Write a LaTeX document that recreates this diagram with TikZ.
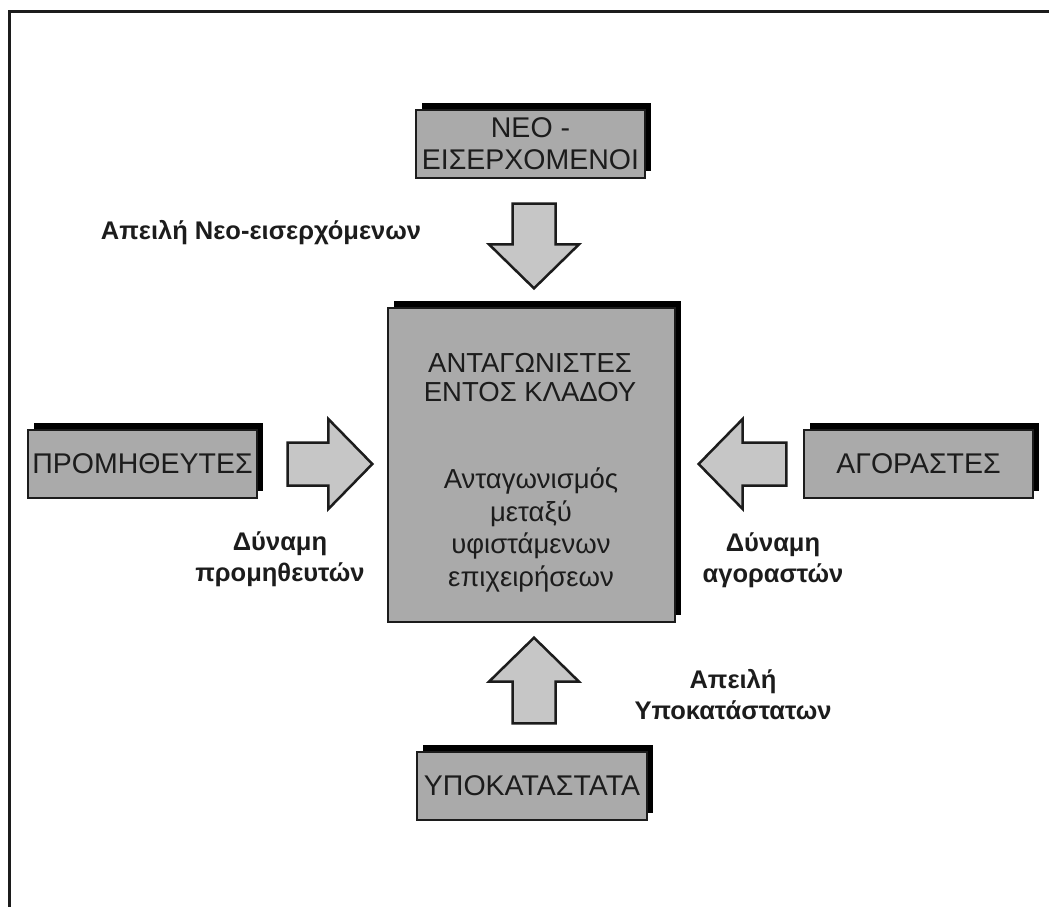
\documentclass[tikz,border=0pt]{standalone}
\usepackage{fontspec}
\setmainfont{Liberation Sans}
\usetikzlibrary{calc,shadows}

\definecolor{boxgray}{RGB}{170,170,170}
\definecolor{arrowgray}{RGB}{198,198,198}
\definecolor{inkdark}{RGB}{28,28,28}

% block arrow from #1 to #2 (shaft half width 21.5, head half width 45, head length 44)
\newcommand{\fatarrow}[2]{%
  \coordinate (#1-#2-h) at ($(#2)!44pt!(#1)$);
  \draw[arrowbody]
    ($(#1)!21.5pt!90:(#2)$) --
    ($(#1-#2-h)!21.5pt!-90:(#1)$) --
    ($(#1-#2-h)!45pt!-90:(#1)$) --
    (#2) --
    ($(#1-#2-h)!45pt!90:(#1)$) --
    ($(#1-#2-h)!21.5pt!90:(#1)$) --
    ($(#1)!21.5pt!-90:(#2)$) -- cycle;
}

\tikzset{
  forcebox/.style={draw=inkdark, line width=1.3pt, fill=boxgray,
    text=inkdark, align=center, inner sep=0pt,
    font=\fontsize{28.5}{32}\selectfont,
    drop shadow={shadow xshift=6pt, shadow yshift=7pt, fill=black, opacity=1}},
  arrowbody/.style={draw=inkdark, line width=2.5pt, fill=arrowgray, line join=miter},
  forcelabel/.style={align=center, text=inkdark, inner sep=0pt,
    font=\fontsize{25.5}{31}\selectfont\bfseries},
  boxtext/.style={align=center, text=inkdark, inner sep=0pt},
}

\begin{document}
\begin{tikzpicture}[x=1pt,y=-1pt]
\useasboundingbox (0,0) rectangle (1049,906);

% outer frame (only top and left edges fall inside the page)
\begin{scope}
  \clip (0,0) rectangle (1049,906);
  \draw[line width=3.5pt, draw=inkdark] (9.5,11.5) rectangle (1080,940);
\end{scope}

% the five forces
\node[forcebox, minimum width=229pt, minimum height=68pt] (neo) at (530.5,144)
  {ΝΕΟ -\\ΕΙΣΕΡΧΟΜΕΝΟΙ};
\node[forcebox, minimum width=287pt, minimum height=314pt] (comp) at (531.5,465) {};
\node[forcebox, minimum width=229pt, minimum height=68pt] (sup) at (142.5,464)
  {ΠΡΟΜΗΘΕΥΤΕΣ};
\node[forcebox, minimum width=229pt, minimum height=68pt] (buy) at (918.5,464)
  {ΑΓΟΡΑΣΤΕΣ};
\node[forcebox, minimum width=230pt, minimum height=68pt] (sub) at (532,786)
  {ΥΠΟΚΑΤΑΣΤΑΤΑ};

% text inside the central box
\node[boxtext, font=\fontsize{27.5}{29}\selectfont] (compT) at (530,378)
  {ΑΝΤΑΓΩΝΙΣΤΕΣ\\ΕΝΤΟΣ ΚΛΑΔΟΥ};
\node[boxtext, font=\fontsize{27.5}{32.5}\selectfont] (compB) at (531,530)
  {Ανταγωνισμός\\μεταξύ\\υφιστάμενων\\επιχειρήσεων};

% arrow end points
\coordinate (a1s) at ($(neo.south)+(3.5,25)$);
\coordinate (a1e) at ($(comp.north)+(2.5,-19)$);
\coordinate (a2s) at ($(sup.east)+(30,0)$);
\coordinate (a2e) at ($(comp.west)+(-15,-1)$);
\coordinate (a3s) at ($(buy.west)+(-17,0)$);
\coordinate (a3e) at ($(comp.east)+(23,-1)$);
\coordinate (a4s) at ($(sub.north)+(2,-28)$);
\coordinate (a4e) at ($(comp.south)+(2.5,15)$);

\fatarrow{a1s}{a1e}
\fatarrow{a2s}{a2e}
\fatarrow{a3s}{a3e}
\fatarrow{a4s}{a4e}

% force labels
\node[forcelabel] (l1) at (261,233) {Απειλή Νεο-εισερχόμενων};
\node[forcelabel] (l2) at (280,559) {Δύναμη\\προμηθευτών};
\node[forcelabel] (l3) at (773,560) {Δύναμη\\αγοραστών};
\node[forcelabel] (l4) at (733,695) {Απειλή\\Υποκατάστατων};
\end{tikzpicture}
\end{document}
